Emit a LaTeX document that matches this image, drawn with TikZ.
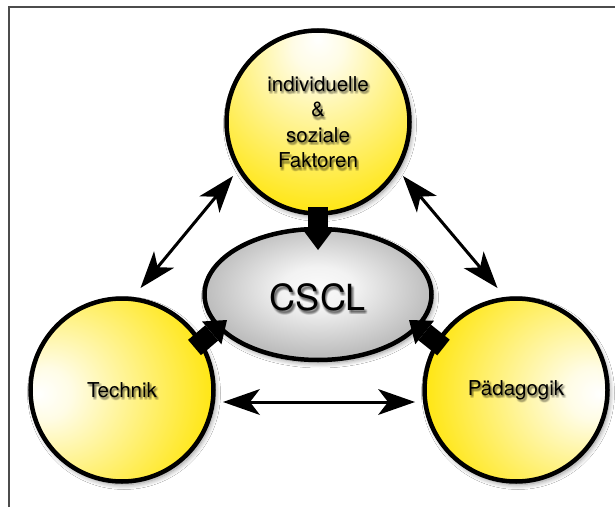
\documentclass[tikz,border=0pt]{standalone}
\usepackage{fontspec}
\setmainfont{TeX Gyre Heros}
\usetikzlibrary{arrows.meta,shapes.geometric,shadows.blur}

\definecolor{Y}{RGB}{255,228,0}
\colorlet{Ylight}{Y!10!white}

% radial fills: a pale highlight on the outer side of each yellow circle
\pgfdeclareradialshading{glowtop}{\pgfpoint{0bp}{23bp}}{color(0bp)=(white); color(7bp)=(Ylight); color(40bp)=(Y); color(80bp)=(Y)}
\pgfdeclareradialshading{glowleft}{\pgfpoint{-23bp}{-1bp}}{color(0bp)=(white); color(7bp)=(Ylight); color(40bp)=(Y); color(80bp)=(Y)}
\pgfdeclareradialshading{glowright}{\pgfpoint{23bp}{-1bp}}{color(0bp)=(white); color(7bp)=(Ylight); color(40bp)=(Y); color(80bp)=(Y)}
\pgfdeclareradialshading{glowgray}{\pgfpoint{0bp}{3bp}}{color(0bp)=(black!2); color(8bp)=(black!5); color(25bp)=(black!26); color(60bp)=(black!26)}

\tikzset{
  softshadow/.style={blur shadow={shadow xshift=2pt, shadow yshift=-3pt,
      shadow blur radius=5pt, shadow blur steps=10, shadow opacity=45}},
  factor/.style={circle, draw=black, line width=4.5pt, minimum size=183pt,
      inner sep=0pt, outer sep=0pt, softshadow},
  core/.style={ellipse, draw=black, line width=4.5pt, minimum width=227pt,
      minimum height=131pt, inner sep=0pt, outer sep=0pt, shading=glowgray, softshadow},
  labeltext/.style={inner sep=0pt, align=center, text=black},
  smalltext/.style={labeltext, font=\fontsize{20.5}{25.5}\selectfont},
  bigtext/.style={labeltext, font=\fontsize{36}{40}\selectfont},
  relation/.style={line width=3pt, draw=black,
      {Stealth[length=37pt, width=26pt, inset=10pt, line width=0pt]}-{Stealth[length=37pt, width=26pt, inset=10pt, line width=0pt]}},
  influence/.style={line width=20pt, draw=black,
      -{Triangle[length=20pt, width=30pt, line width=0pt]}},
}

% a label with a soft dark shadow underneath
\newcommand\softlabel[4]{%
  \foreach \sx/\sy in {0.5/-1.5,1.5/-1.5,2.5/-1.5,0.5/-2.5,1.5/-2.5,2.5/-2.5,0.5/-3.5,1.5/-3.5,2.5/-3.5}
    \node[#3, text=black, text opacity=0.08] at ([shift={(\sx,\sy)}]#2) {#4};
  \node[#3] (#1) at (#2) {#4};
}

\begin{document}
\begin{tikzpicture}[x=1pt, y=1pt]
  \useasboundingbox (0,0) rectangle (615,507);
  \fill[white] (0,0) rectangle (615,507);

  % frame
  \draw[black!70, line width=1.8pt] (9,0) -- (9,500) -- (615,500);

  % the three factors and the centre
  \node[factor, shading=glowtop]   (top)  at (318,385) {};
  \node[factor, shading=glowleft]  (tech) at (122,117) {};
  \node[factor, shading=glowright] (paed) at (516,117) {};
  \node[core] (cscl) at (318,212.5) {};
  \coordinate (cscl-text) at ([yshift=-3]cscl.center);

  % mutual relations between the factors
  \draw[relation] ([shift={(18.5,102)}]tech.center) -- ([shift={(-85,-54)}]top.center);
  \draw[relation] ([shift={(85,-54)}]top.center) -- ([shift={(-18.5,102)}]paed.center);
  \draw[relation] ([shift={(101,-12)}]tech.center) -- ([shift={(-101,-12)}]paed.center);

  % influences on CSCL
  \draw[influence] ([shift={(0,-85)}]top.center) -- ([shift={(0,44.5)}]cscl.center);
  \draw[influence] ([shift={(72.5,42.5)}]tech.center) -- ([shift={(-91,-25.5)}]cscl.center);
  \draw[influence] ([shift={(-72.5,42.5)}]paed.center) -- ([shift={(91,-25.5)}]cscl.center);

  % labels
  \softlabel{top-label}{top.center}{smalltext}{individuelle\\\&\\soziale\\Faktoren}
  \softlabel{tech-label}{tech.center}{smalltext}{Technik}
  \softlabel{paed-label}{paed.center}{smalltext}{Pädagogik}
  \softlabel{cscl-label}{cscl-text}{bigtext}{CSCL}
\end{tikzpicture}
\end{document}
